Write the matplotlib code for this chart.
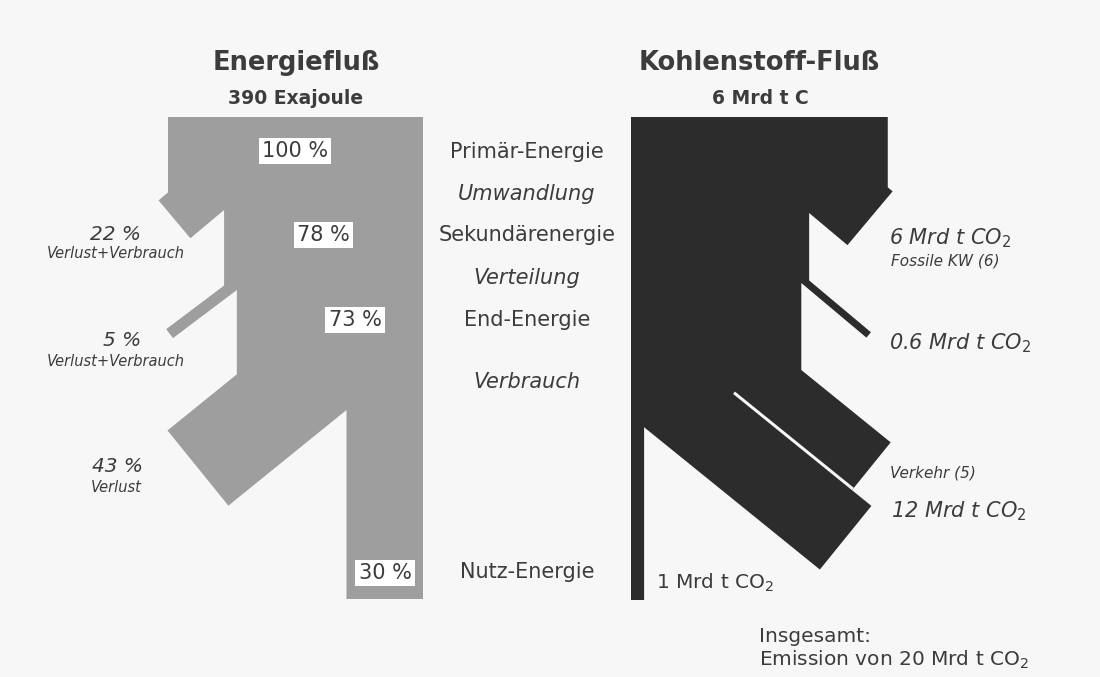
import numpy as np
import matplotlib.pyplot as plt
from matplotlib.patches import Polygon

# energy flow (percent of 390 EJ primary energy)
energy_pct = [100, 78, 73, 30]
energy_pct_labels = ['100 %', '78 %', '73 %', '30 %']
energy_loss = [22, 5, 43]
energy_loss_labels = ['22 %', '5 %', '43 %']
energy_loss_notes = ['Verlust+Verbrauch', 'Verlust+Verbrauch', 'Verlust']

stage_labels = ['Primär-Energie', 'Umwandlung', 'Sekundärenergie', 'Verteilung',
                'End-Energie', 'Verbrauch', 'Nutz-Energie']
stage_italic = [False, True, False, True, False, True, False]

# carbon flow (Mrd t CO2)
co2_fossil_kw = 6
co2_small = 0.6
co2_verkehr = 5
co2_other = 7
co2_direct = 1
co2_total = 20

# layout (pixel coords, y down)
W, H = 1100, 677
top, bottom = 117, 599
e_right = 423
e_scale = 2.55          # px per % on the trunk
e_perp = 2.25           # px per % across a branch
c_left = 631
c_scale = 13.1          # px per Mrd t on the trunk
c_perp = 11.7           # px per Mrd t across a branch

light = '#9e9e9e'
dark = '#2c2c2c'
bg = '#f7f7f7'
txt = '#3c3c3c'


def branch(x_old, step, y_in, theta, length, w_perp, side):
    # side -1: leaves to the lower left, +1: leaves to the lower right
    c, s = np.cos(np.radians(theta)), np.sin(np.radians(theta))
    x_new = x_old - side * step
    d = np.array([side * c, s])
    n = np.array([side * s, -c])
    p_in = np.array([x_new, y_in])
    e_in = p_in + length * d
    e_out = e_in + w_perp * n
    t = (e_out[0] - x_old) / (side * c)
    p_out = np.array([x_old, e_out[1] - t * s])
    return x_new, [p_out, e_out, e_in, p_in]


fig = plt.figure(figsize=(11, 6.77), dpi=100)
fig.patch.set_facecolor(bg)
ax = fig.add_axes([0, 0, 1, 1])
ax.set_xlim(0, W)
ax.set_ylim(H, 0)
ax.axis('off')

# ---- Energiefluss ----
x = e_right - energy_pct[0] * e_scale
path = [np.array([x, top])]
e_geom = [(210, 40, 44), (290, 37, 80), (410, 39, 152)]
for loss, (y_in, th, ln) in zip(energy_loss, e_geom):
    x, pts = branch(x, loss * e_scale, y_in, th, ln, loss * e_perp, -1)
    path += pts
path += [np.array([x, bottom]), np.array([e_right, bottom]), np.array([e_right, top])]
ax.add_patch(Polygon(np.array(path), closed=True, fc=light, ec='none'))

# ---- Kohlenstoff-Fluss ----
c_sum = co2_fossil_kw + co2_small + co2_verkehr + co2_other + co2_direct
xr = c_left + c_sum * c_scale
path = [np.array([c_left, top]), np.array([xr, top])]
for val, (y_in, th, ln) in zip([co2_fossil_kw, co2_small], [(213, 40, 50), (283, 40, 85)]):
    xr, pts = branch(xr, val * c_scale, y_in, th, ln, val * c_perp, 1)
    path += pts

th = np.radians(39)
d = np.array([np.cos(th), np.sin(th)])
m = np.array([-np.sin(th), np.cos(th)])
corner = np.array([xr, 370])
wv = co2_verkehr * c_perp
gap = 3
wo = co2_other * c_perp
lv, lo = 115, 140
x_bar = c_left + co2_direct * c_scale
base = corner + (wv + gap + wo) * m
s_in = (x_bar - base[0]) / d[0]
path += [corner,
         corner + lv * d,
         corner + lv * d + wv * m,
         corner + lv * d + (wv + gap) * m,
         corner + lo * d + (wv + gap) * m,
         corner + lo * d + (wv + gap + wo) * m,
         base + s_in * d,
         np.array([x_bar, bottom + 1]),
         np.array([c_left, bottom + 1])]
ax.add_patch(Polygon(np.array(path), closed=True, fc=dark, ec='none'))
gap_strip = [corner - 38 * d + wv * m, corner + lv * d + wv * m,
             corner + lv * d + (wv + gap) * m, corner - 38 * d + (wv + gap) * m]
ax.add_patch(Polygon(np.array(gap_strip), closed=True, fc=bg, ec='none'))

# ---- titles ----
ax.text(296, 63, 'Energiefluß', ha='center', va='center', fontsize=18.5,
        fontweight='bold', color=txt)
ax.text(296, 98, '390 Exajoule', ha='center', va='center', fontsize=13.5,
        fontweight='bold', color=txt)
ax.text(759, 63, 'Kohlenstoff-Fluß', ha='center', va='center', fontsize=18.5,
        fontweight='bold', color=txt)
ax.text(760, 98, '6 Mrd t C', ha='center', va='center', fontsize=13.5,
        fontweight='bold', color=txt)

# ---- stage labels in the middle ----
stage_y = [152, 194, 235, 278, 320, 382, 572]
for lab, it, y in zip(stage_labels, stage_italic, stage_y):
    ax.text(527, y, lab, ha='center', va='center', fontsize=15,
            style='italic' if it else 'normal', color=txt)

# ---- percentage boxes ----
box_pos = [(295, 151), (323, 235), (355, 320), (385, 573)]
for lab, (bx, by) in zip(energy_pct_labels, box_pos):
    ax.text(bx, by, lab, ha='center', va='center', fontsize=15, color=txt,
            bbox=dict(boxstyle='square,pad=0.15', fc='white', ec='none'))

# ---- loss labels ----
loss_pos = [(116, 234, 254), (122, 341, 361), (117, 467, 487)]
for lab, note, (lx, y1, y2) in zip(energy_loss_labels, energy_loss_notes, loss_pos):
    ax.text(lx, y1, lab, ha='center', va='center', fontsize=14.5,
            style='italic', color=txt)
    ax.text(116, y2, note, ha='center', va='center', fontsize=10.5,
            style='italic', color=txt)

# ---- CO2 labels ----
ax.text(889, 238, f'{co2_fossil_kw} Mrd t CO$_2$', ha='left', va='center',
        fontsize=15, style='italic', color=txt)
ax.text(891, 261, 'Fossile KW (6)', ha='left', va='center', fontsize=11,
        style='italic', color=txt)
ax.text(889, 343, f'{co2_small} Mrd t CO$_2$', ha='left', va='center',
        fontsize=15, style='italic', color=txt)
ax.text(890, 473, f'Verkehr ({co2_verkehr})', ha='left', va='center', fontsize=11,
        style='italic', color=txt)
ax.text(891, 511, f'{co2_verkehr + co2_other} Mrd t CO$_2$', ha='left', va='center',
        fontsize=15, style='italic', color=txt)
ax.text(656, 583, f'{co2_direct} Mrd t CO$_2$', ha='left', va='center',
        fontsize=14.5, color=txt)
ax.text(759, 636, 'Insgesamt:', ha='left', va='center', fontsize=14.5, color=txt)
ax.text(759, 660, f'Emission von {co2_total} Mrd t CO$_2$', ha='left', va='center',
        fontsize=14.5, color=txt)

fig.savefig('out.png', dpi=100, facecolor=bg)
